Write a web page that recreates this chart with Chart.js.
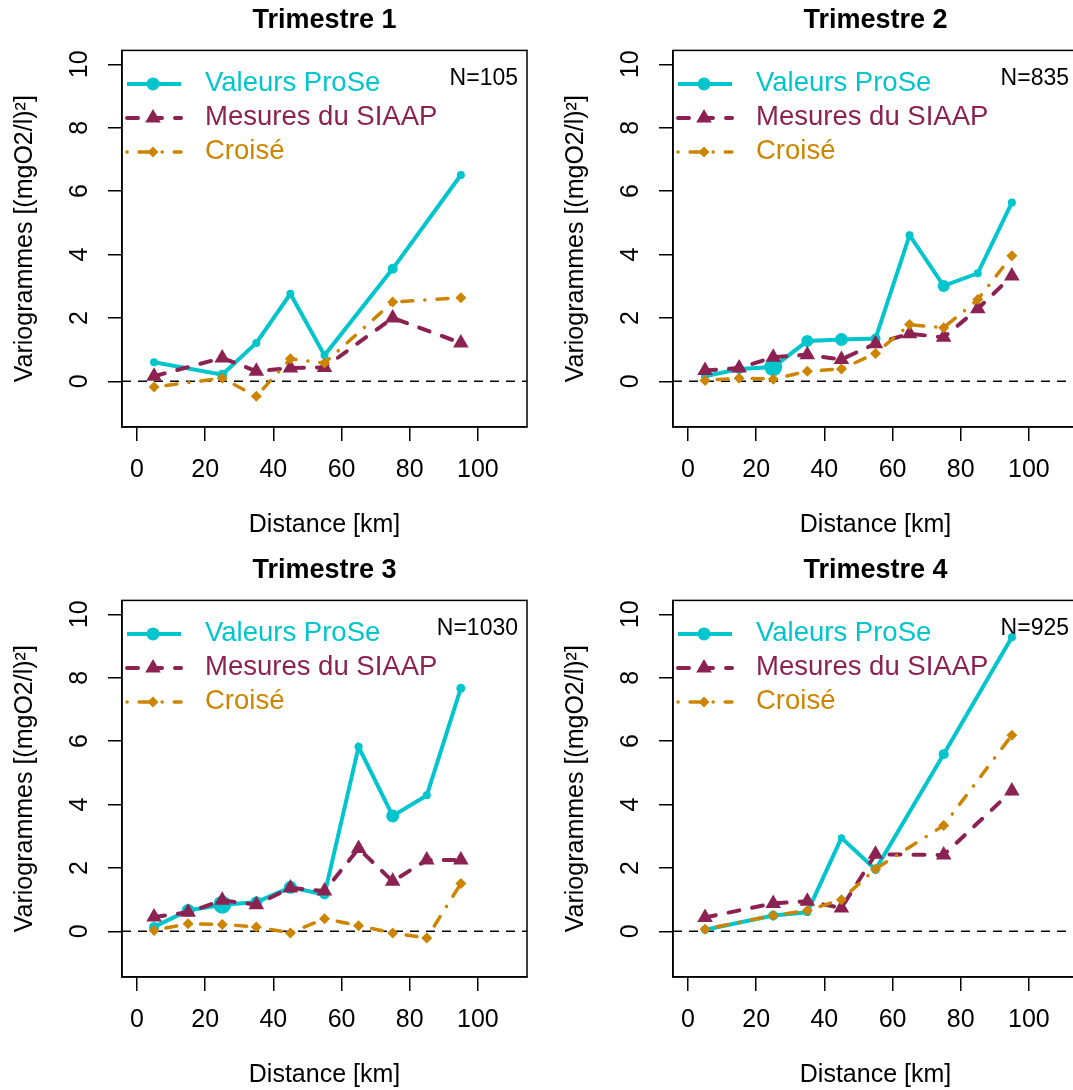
<!DOCTYPE html>
<html>
<head>
<meta charset="utf-8">
<script src="https://cdn.jsdelivr.net/npm/chart.js@4.4.0/dist/chart.umd.min.js"></script>
<style>
  body { margin: 0; background: #fff; width: 1073px; height: 1090px; overflow: hidden; position: relative; }
  canvas { position: absolute; }
</style>
</head>
<body>
<canvas id="c1" width="536" height="545" style="left:0px;top:0px"></canvas>
<canvas id="c2" width="536" height="545" style="left:551px;top:0px"></canvas>
<canvas id="c3" width="536" height="545" style="left:0px;top:550px"></canvas>
<canvas id="c4" width="536" height="545" style="left:551px;top:550px"></canvas>
<script>
const FONT = "'Liberation Sans', Arial, Helvetica, sans-serif";
const CYAN = '#00C5CD';
const PURPLE = '#8B2252';
const ORANGE = '#CD8500';

// distances (km) of the variogram classes
const distShort = [5, 25, 35, 45, 55, 75, 95];
const distFull = [5, 15, 25, 35, 45, 55, 65, 75, 85, 95];

// Trimestre 1
const prose1 = [0.60, 0.21, 1.21, 2.76, 0.82, 3.55, 6.51];
const siaap1 = [0.16, 0.74, 0.32, 0.42, 0.44, 2.00, 1.21];
const croise1 = [-0.18, 0.10, -0.47, 0.71, 0.58, 2.50, 2.64];
const proseSize1 = [4, 5, 4, 4, 4, 5, 4];

// Trimestre 2
const prose2 = [0.16, 0.39, 0.45, 1.27, 1.32, 1.35, 4.61, 3.01, 3.41, 5.64];
const siaap2 = [0.34, 0.42, 0.76, 0.84, 0.69, 1.19, 1.50, 1.39, 2.29, 3.32];
const croise2 = [0.03, 0.10, 0.07, 0.32, 0.39, 0.88, 1.79, 1.69, 2.58, 3.96];
const proseSize2 = [4, 5, 9, 6, 6.5, 5, 4, 6, 4, 4];

// Trimestre 3
const prose3 = [0.14, 0.66, 0.84, 0.92, 1.39, 1.16, 5.82, 3.64, 4.29, 7.67];
const siaap3 = [0.45, 0.60, 0.98, 0.84, 1.37, 1.27, 2.61, 1.58, 2.25, 2.25];
const croise3 = [0.03, 0.24, 0.22, 0.14, -0.05, 0.40, 0.18, -0.05, -0.21, 1.51];
const proseSize3 = [5, 6.5, 9, 6, 6.5, 5, 4, 6.5, 4, 4.5];

// Trimestre 4
const prose4 = [0.05, 0.50, 0.60, 2.95, 1.95, 5.59, 9.28];
const siaap4 = [0.44, 0.88, 0.95, 0.74, 2.43, 2.41, 4.43];
const croise4 = [0.07, 0.50, 0.66, 1.00, 1.97, 3.34, 6.19];
const proseSize4 = [4, 5, 4, 3.7, 4.5, 5, 4];

const xTicks = [0, 20, 40, 60, 80, 100];
const yTicks = [0, 2, 4, 6, 8, 10];
const legendLabels = ['Valeurs ProSe', 'Mesures du SIAAP', 'Croisé'];

const seriesStyle = [
  { color: CYAN, width: 4, dash: [], cap: 'butt', point: 'circle', radius: 6.5 },
  { color: PURPLE, width: 4, dash: [11, 13], cap: 'round', point: 'triangle', radius: 9 },
  { color: ORANGE, width: 3.5, dash: [0.1, 12, 11, 12], cap: 'round', point: 'rectRot', radius: 5.5 }
];

// R-like decorations: dashed zero line, legend, N, box, rotated y labels
const rPlot = {
  id: 'rPlot',
  beforeDatasetsDraw(chart, args, opts) {
    const ctx = chart.ctx;
    const a = chart.chartArea;
    const y0 = chart.scales.y.getPixelForValue(0);
    ctx.save();
    ctx.strokeStyle = '#000';
    ctx.lineWidth = 1.5;
    ctx.setLineDash([9, 7]);
    ctx.beginPath();
    ctx.moveTo(a.left, y0);
    ctx.lineTo(a.right, y0);
    ctx.stroke();
    ctx.setLineDash([]);

    ctx.fillStyle = '#000';
    ctx.font = '23px ' + FONT;
    ctx.textAlign = 'right';
    ctx.textBaseline = 'middle';
    ctx.fillText(opts.n, a.left + 396, a.top + 28);

    ctx.font = '27.5px ' + FONT;
    ctx.textAlign = 'left';
    seriesStyle.forEach((s, i) => {
      const ly = a.top + 33.5 + i * 34;
      ctx.strokeStyle = s.color;
      ctx.lineWidth = s.width;
      ctx.lineCap = s.cap;
      ctx.setLineDash(s.dash);
      ctx.beginPath();
      ctx.moveTo(a.left + 5, ly);
      ctx.lineTo(a.left + 59, ly);
      ctx.stroke();
      ctx.setLineDash([]);
      ctx.fillStyle = s.color;
      Chart.helpers.drawPoint(ctx, { pointStyle: s.point, radius: s.radius, rotation: 0, borderWidth: 0 }, a.left + 31, ly);
      ctx.fillStyle = s.color;
      ctx.fillText(legendLabels[i], a.left + 83, ly);
    });
    ctx.restore();
  },
  afterDraw(chart) {
    const ctx = chart.ctx;
    const a = chart.chartArea;
    const y = chart.scales.y;
    ctx.save();
    ctx.strokeStyle = '#000';
    ctx.lineWidth = 1.5;
    ctx.strokeRect(a.left, a.top, a.right - a.left, a.bottom - a.top);
    ctx.fillStyle = '#000';
    ctx.font = '25px ' + FONT;
    ctx.textAlign = 'center';
    ctx.textBaseline = 'middle';
    yTicks.forEach(v => {
      ctx.save();
      ctx.translate(a.left - 42, y.getPixelForValue(v));
      ctx.rotate(-Math.PI / 2);
      ctx.fillText(String(v), 0, 0);
      ctx.restore();
    });
    ctx.restore();
  }
};

function toPoints(xs, ys) {
  return xs.map((x, i) => ({ x: x, y: ys[i] }));
}

function makePanel(id, title, n, dist, prose, siaap, croise, proseSize) {
  const series = [prose, siaap, croise];
  const datasets = series.map((vals, i) => {
    const s = seriesStyle[i];
    return {
      label: legendLabels[i],
      data: toPoints(dist, vals),
      borderColor: s.color,
      backgroundColor: s.color,
      borderWidth: s.width,
      borderDash: s.dash,
      borderCapStyle: s.cap,
      pointStyle: s.point,
      pointRadius: i === 0 ? proseSize : s.radius,
      pointBorderWidth: 0,
      pointBackgroundColor: s.color,
      tension: 0,
      order: 3 - i
    };
  });

  const axisGrid = { drawOnChartArea: false, drawTicks: true, tickLength: 14, color: '#000', lineWidth: 1.5 };
  const axisBorder = { display: true, color: '#000', width: 1.5 };

  return new Chart(document.getElementById(id), {
    type: 'line',
    data: { datasets: datasets },
    options: {
      responsive: false,
      animation: false,
      events: [],
      layout: { padding: { left: 0, right: 6.5, top: 0, bottom: 0 } },
      plugins: {
        legend: { display: false },
        tooltip: { enabled: false },
        title: {
          display: true,
          text: title,
          fullSize: false,
          color: '#000',
          font: { family: FONT, size: 27, weight: 'bold' },
          padding: { top: 4, bottom: 14 }
        },
        rPlot: { n: n }
      },
      scales: {
        x: {
          type: 'linear',
          min: -4.4,
          max: 114.4,
          afterBuildTicks: s => { s.ticks = xTicks.map(v => ({ value: v })); },
          afterFit: s => { s.height = 118; },
          ticks: { color: '#000', font: { family: FONT, size: 25 }, padding: 14, maxRotation: 0, autoSkip: false },
          grid: axisGrid,
          border: axisBorder,
          title: { display: true, text: 'Distance [km]', color: '#000', font: { family: FONT, size: 25 }, padding: { top: 0, bottom: 5 } }
        },
        y: {
          type: 'linear',
          min: -1.44,
          max: 10.44,
          afterBuildTicks: s => { s.ticks = yTicks.map(v => ({ value: v })); },
          afterFit: s => { s.width = 122; },
          ticks: { display: false },
          grid: axisGrid,
          border: axisBorder,
          title: { display: true, text: 'Variogrammes [(mgO2/l)²]', color: '#000', font: { family: FONT, size: 25 }, padding: { top: 10, bottom: 0 } }
        }
      }
    },
    plugins: [rPlot]
  });
}

makePanel('c1', 'Trimestre 1', 'N=105', distShort, prose1, siaap1, croise1, proseSize1);
makePanel('c2', 'Trimestre 2', 'N=835', distFull, prose2, siaap2, croise2, proseSize2);
makePanel('c3', 'Trimestre 3', 'N=1030', distFull, prose3, siaap3, croise3, proseSize3);
makePanel('c4', 'Trimestre 4', 'N=925', distShort, prose4, siaap4, croise4, proseSize4);
</script>
</body>
</html>
